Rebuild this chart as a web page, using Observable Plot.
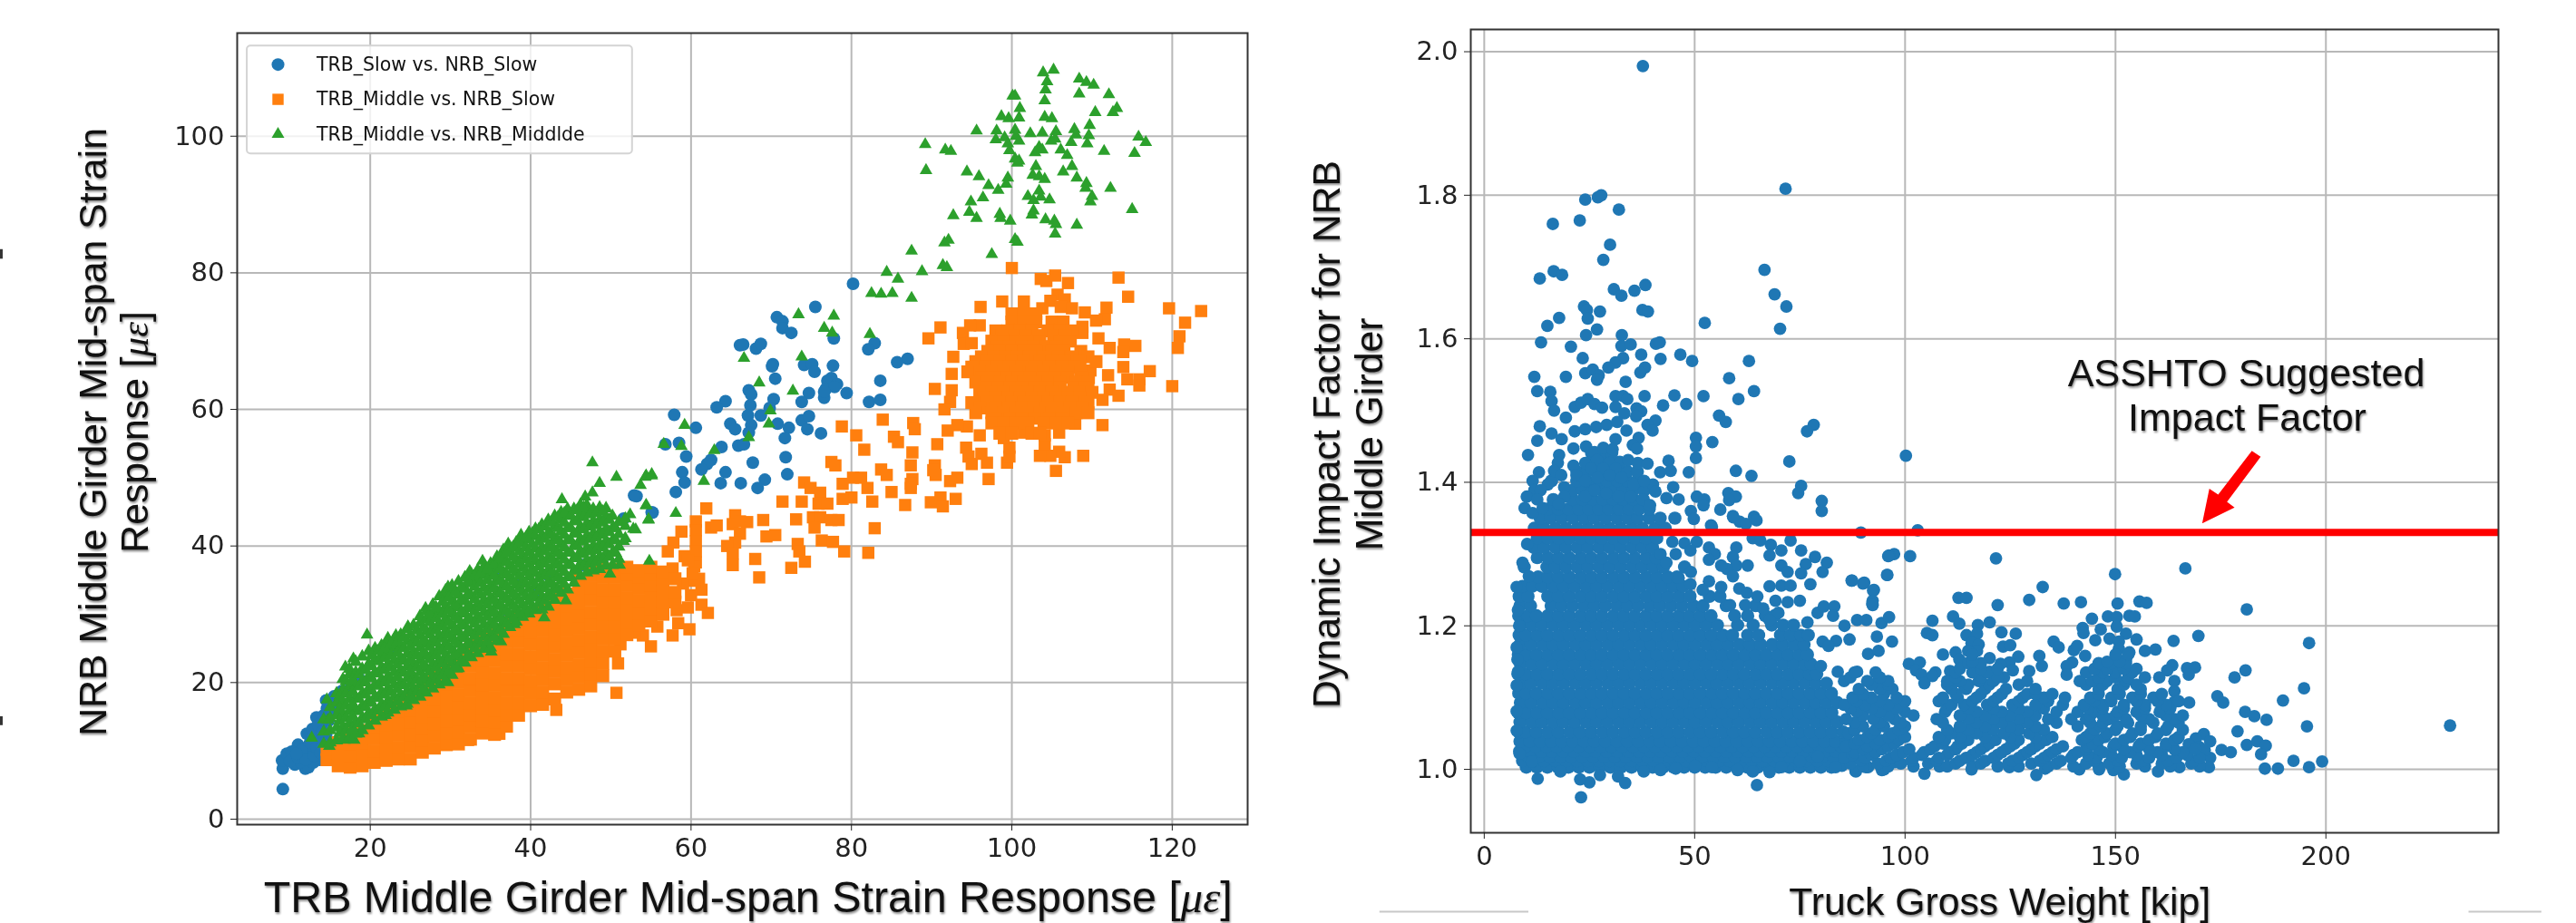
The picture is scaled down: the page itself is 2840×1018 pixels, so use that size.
<!DOCTYPE html>
<html><head><meta charset="utf-8">
<script src="https://cdn.jsdelivr.net/npm/d3@7"></script>
<script src="https://cdn.jsdelivr.net/npm/@observablehq/plot@0.6"></script>
<style>
html,body{margin:0;padding:0;background:#fff;width:2840px;height:1018px;overflow:hidden}
#a,#b{position:absolute;top:0;width:1420px;height:1018px}
#a{left:0}#b{left:1420px}
svg{overflow:visible;filter:blur(.45px)}
g[font-family="Liberation Sans"]{filter:drop-shadow(1.5px 2px 1.2px rgba(0,0,0,.45))}
</style></head><body><div id="a"></div><div id="b"></div>
<script>
const strainTicksX=[20,40,60,80,100,120], strainTicksY=[0,20,40,60,80,100];
const weightTicks=[0,50,100,150,200], impactTicks=[1,1.2,1.4,1.6,1.8,2];
const legendNames=["TRB_Slow vs. NRB_Slow","TRB_Middle vs. NRB_Slow","TRB_Middle vs. NRB_Middlde"];
const assthoFactor=1.33;

const slowPairs=[[80.2,78.4],[75.5,75],[70.7,73.5],[71.4,72.9],[71.4,71.9],[72.5,71.2],[77.8,70.4],[66.1,69.4],[66.5,69.5],[68.1,68.9],[68.7,69.6],[82.9,69.7],[82.1,68.8],[87,67.4],[85.7,66.9],[70.2,66.6],[70.1,66.3],[74.1,66.5],[75.1,66.6],[75.4,65.5],[77.7,66.4],[70.5,64.5],[83.6,64.2],[77,64.2],[77.5,64.6],[78.2,63.7],[76.8,63],[77.9,63.3],[79.4,62.4],[76.6,61.7],[76.6,62.6],[74.7,62.4],[73.8,61.1],[82.2,61.1],[83.6,61.4],[67.2,62.8],[67.5,62.2],[64.3,61.2],[63.2,60.3],[70.3,61.5],[67.4,60.6],[69.8,60.2],[67.1,59.1],[68.7,59.1],[57.9,59.2],[73.8,58.4],[74.7,59],[64.9,57.9],[65.5,57.1],[67.5,57.7],[70.8,57.9],[72.2,57.3],[74.5,57.1],[60.6,57.3],[76.2,56.5],[71.7,55.8],[67.2,56.6],[56.8,54.9],[58.5,55.1],[63.8,54.5],[65.9,54.7],[66.6,54.9],[59.4,53.1],[71.8,53],[62.5,52.6],[62,52],[61.3,51.2],[67.7,52.2],[58.9,50.8],[64.3,50.8],[72,50.5],[59.2,49.3],[63.7,49.2],[66.2,49.2],[69.2,49.7],[68.3,48.5],[58.1,47.9],[53.2,47.3],[55.1,44.9],[9.1,4.4],[9.1,7.4],[9,8.6],[10.6,8],[11.9,7.4],[12.3,7.6],[9.6,9.6],[11,10.9],[12.1,12.5],[13.3,14.9],[14.5,17.4],[16.4,18.7],[11.4,9.2],[12.7,10],[13.7,11.8],[13.7,8.7],[12.9,8.3],[13.9,13.6],[14.9,16.3],[15.4,17.2],[10.2,9.9],[11.3,8.4],[12.2,9.5],[13,11.4],[12.8,13.2],[14.5,12.3],[14.8,14.4],[15.8,15.6],[17.6,19.4],[18.6,20.6],[10,8.5],[11,9],[11.5,10.2],[12.5,11.2],[12,8.7],[13,9.3],[13.3,10.5],[13.6,12.8],[13.5,13.8],[14.2,15.2],[14.6,16.2],[14,10.8],[13.8,9.7],[10.8,9.6],[15.5,18],[16,17.5],[14.2,11.4],[14,12.8],[22.3,24.7],[35.7,36.3],[51.6,44],[48.9,37.6],[52.9,47.4],[55.2,44.9],[42.1,35.8],[40.5,33.4],[37.2,29.4],[33.5,26.5],[46.5,37.2],[38.5,34.6]];

const middleSlowPairs=[[100,80.7],[103.6,79.1],[104.3,78.8],[105.4,79.6],[107,78.5],[113.3,79.3],[114.5,76.5],[96.1,75],[98.8,75.8],[101.5,75.8],[103.8,74.8],[105.7,76.8],[104.8,75.9],[106.6,76.1],[106.1,75],[107.5,74.8],[109.1,74.2],[111.8,74.9],[119.6,74.8],[123.6,74.4],[121.6,72.7],[120.9,70.7],[120.7,69],[120,63.4],[91.1,72],[89.6,70.4],[96,72.3],[94.8,72.3],[93.9,71.2],[94,69.6],[95,69.7],[111.6,73.2],[110.5,73],[108.8,72.1],[108.8,71.2],[110.8,70.4],[112.2,69],[114,69.5],[115.4,69.3],[113.9,68.4],[113.9,66.2],[117.2,65.6],[115.9,64.4],[115.9,63.5],[114.4,64.4],[112,65],[109.8,65.7],[109.6,64.6],[112.2,62.9],[113.3,62],[111.3,61.4],[111.3,57.7],[108.9,53.2],[105.5,51],[106.6,53],[105.9,53.8],[104.8,53.2],[103.5,53.2],[105.9,56.6],[107.9,57.9],[99.4,52.2],[99.7,53.1],[99.7,54.4],[104.1,54.9],[104.1,56.2],[99,55.8],[101.5,56.6],[96,56.2],[94.4,57.5],[93.2,57.7],[92,56.9],[92.7,67.7],[92.5,65.2],[90.4,63],[92.5,62.8],[92.3,61.1],[91.6,60],[90.7,54.9],[94.3,54.4],[94.6,53.1],[95,52],[96.2,53.5],[96.9,52.2],[97.1,49.8],[87.7,58],[87.9,57.1],[83.9,58.5],[78.8,57.5],[80.6,56.2],[85.3,56],[85.8,55.2],[81.6,54.1],[87.6,53.7],[87.4,51.8],[90.4,51.8],[90.2,51.1],[90.5,50.4],[83.7,51.2],[84.4,50.4],[87.6,49.8],[87.4,49.1],[87.4,48.5],[93.2,50],[92.3,49.5],[85,47.9],[86.7,46],[89.9,46.4],[91.1,47.1],[91.4,45.8],[93,46.9],[77.5,52.3],[78,51.8],[74.1,49.3],[74.9,48.5],[76.1,47.8],[75.9,46.2],[77,46.2],[78.9,49.1],[80.2,50],[81.2,50],[82,48.5],[82.6,46.5],[80,47.1],[78.9,46.9],[71.4,46.5],[73.8,46.5],[73.1,43.9],[75.2,44.2],[76.1,44.2],[77.5,43.8],[78.4,43.8],[75.4,42.7],[82.9,42.6],[76.3,40.8],[77.7,40.6],[79.1,39.2],[82.1,39],[73.3,40.3],[73.5,39.2],[74.2,37.7],[72.5,36.8],[69.4,41.4],[70.5,41.6],[68,38.1],[69,43.8],[61.9,45.5],[60.6,43.6],[60.6,42.3],[60.6,40.7],[60.6,39.2],[60.6,37.6],[62.5,42.7],[63.2,43],[65.5,44.5],[65.2,43.2],[66.1,43.6],[67,43.5],[66.1,41.8],[65.5,40.5],[64.5,40],[65.2,38.9],[65.2,37.2],[58.8,42.1],[57.8,40.5],[57.1,39.2],[59.2,38.5],[68.5,35.4],[59.8,27.8],[61.3,33.6],[61.3,31.4],[62.1,30.2],[60.4,37],[60.4,34.9],[59.6,37.9],[57.7,36.7],[58.4,28.7],[57.7,26.9],[55,25.3],[50.9,22.8],[50.7,18.5],[51.2,25.6],[43.2,16],[36.1,12.5],[32.2,11.6],[59.6,31],[60,32.8],[58.2,30.6],[59,34.5],[61,35.2],[60.2,36],[55.8,28.2],[54,26.9],[53,27.3]];

// rows of the orange cloud around (102, 64): [NRB strain, TRB strains]
const middleCloudRows=[
[74,[100,101.5,103]],
[72.8,[100,101.5,103,105,106.4]],
[71.5,[98,99.5,101,102.5,104.5,106,107.5]],
[70.8,[98.8,100.3,101.8,103.3,105.2,106.7]],
[70,[97.5,99,100.5,102,103.5,106,107.3]],
[69.2,[98.2,99.7,101.2,102.7,104.2,105.5]],
[68.5,[97,98.5,100,101.5,103,105,106.5,108.6]],
[67.7,[96.2,97.7,99.2,100.7,102.2,104,105.8,107.5,109.5]],
[67,[95.5,97,98.5,100,101.5,103.5,105,106.5,108.5,110.5]],
[66.2,[95,96.7,98.2,99.7,101.2,103,104.7,106.2,107.8]],
[65.5,[94.5,96,97.5,99,100.5,102.5,104,105.5,107,108.6]],
[64.7,[96.3,97.8,99.3,100.8,102.3,103.8,105.3,107,108.8]],
[64,[95.5,97,98.5,100,101.5,103,104.5,106,108,109.5]],
[63.2,[96.8,98.3,99.8,101.3,102.8,104.3,106,107.7,109]],
[62.5,[96,97.5,99,100.5,102,103.5,105,107,108.5,110]],
[61.7,[96.5,98,99.5,101,102.5,104,105.5,107,108.5]],
[61,[95,97,98.5,100,101.5,103,104.5,106,107.5,109.5]],
[60.2,[96,98,99.7,101.2,102.7,104.2,105.7,107.2,108.8]],
[59.5,[95.5,97.5,99,100.5,102,103.5,105,106.5,108,109.5]],
[58.7,[98,99.8,101.2,102.8,104.7,106.2]],
[58,[97.5,99,100.5,102,104,105.5,107]],
[56.5,[98.5,100,102.5,103.5]]];

const middleBandColumns=[
[14.6,[8.7,10.2]],[16,[7.8,9.5,11.2]],[17.5,[7.6,9.3,11,12.5]],[19,[7.8,9.5,11.2,13]],[20.5,[8.3,10,11.8,13.6,14.6]],[22,[8.6,10.3,12,13.8,15.5]],[23.5,[8.8,10.5,12.3,14,15.8,16.8]],[25,[8.8,10.6,12.4,14.2,16,17.8]],[26.5,[9.8,11.5,13.3,15,16.8,18.6,19.6]],[28,[10.4,12.2,14,15.8,17.5,19.3,21]],[29.5,[10.9,12.6,14.4,16.2,18,19.8,21.6,22.4]],[31,[11,12.8,14.6,16.4,18.2,20,21.8,23.6]],[32.5,[11.7,13.5,15.3,17,18.8,20.6,22.4,24.2,25.5]],[34,[12.6,14.4,16.2,18,19.7,21.5,23.3,25,26.6]],[35.5,[12.4,14.2,16,17.8,19.6,21.4,23.2,25,26.8,27.6]],[37,[13.6,15.3,17,18.8,20.6,22.4,24.2,26,27.8,28.8]],[38.5,[15.2,17,18.8,20.6,22.4,24.2,26,27.8,29.4]],[40,[16.6,18.4,20.2,22,23.8,25.6,27.4,29.2,30.2]],[41.5,[16.8,18.6,20.4,22.2,24,25.8,27.6,29.4,31]],[43,[17.6,19.8,21.6,23.4,25.2,27,28.8,30.6,32.4]],[44.5,[18.6,20.4,22.2,24,25.8,27.6,29.4,31.2,33]],[46,[19,20.8,22.6,24.4,26.2,28,29.8,31.6,33.4,35]],[47.5,[19.5,21.3,23.1,24.9,26.7,28.5,30.3,32.1,33.9,35.7,36.5]],[49,[21,22.8,24.6,26.4,28.2,30,31.8,33.6,35.4,36.6]],[50.5,[24.6,26.4,28.2,30,31.8,33.6,35.4,36.6]],[52,[27,28.8,30.6,32.4,34.2,35.8,36.9]],[53.5,[28.4,30.2,32,33.8,35.4,36.4]],[55,[29,30.8,32.6,34.2,35.9,36.9]],[56.5,[30,31.8,33.4,35,36.2]],[58,[31.8,33.2,35.2]]];

const middleMiddlePairs=[[105.2,109.7],[103.9,109.3],[104.4,108],[104.2,106.8],[104.1,105.2],[108.4,108.4],[109.3,107.9],[110.2,107.5],[108.4,106.2],[112.1,106.1],[100.1,105.9],[100.4,105.9],[101,104.1],[113.1,104.1],[112.6,103.5],[110.4,103.5],[98.7,102.9],[99.6,102.6],[100.9,102.7],[104.1,102.8],[105,102.6],[109.7,101.6],[100.4,100.9],[98.1,100.8],[95.6,100.8],[107.8,101],[102.3,100.4],[103.8,100.5],[105.5,100.7],[108,100.2],[109.6,100.1],[115.8,99.9],[116.7,99.1],[98,99.5],[99.1,99.8],[100.5,100],[100.9,99.3],[99.5,98.9],[104.9,99.3],[105.4,99.6],[107.4,99.1],[109.4,98.9],[89.2,98.8],[91.7,98],[92.4,97.8],[99.7,97.9],[103.4,98.4],[102.9,97.6],[103.8,98],[106.1,98],[106.9,97.2],[111.5,97.8],[115.3,97.5],[100.4,96.7],[100.9,96.4],[100.7,96.1],[103,95.6],[89.3,95],[107.5,95.6],[94.4,94.8],[106.4,94.8],[95.9,94.1],[102.6,94.3],[103.4,94.1],[104.1,93.7],[108.1,93.9],[99.5,93.9],[99.3,93],[97.1,92.8],[98.3,92.1],[109.3,93.1],[109.2,92.4],[112.3,92.4],[103.4,92],[102,91.2],[96.4,91],[103.6,91.1],[104.7,90.7],[102.7,90.6],[110,91.2],[109.8,90.4],[94.9,90.4],[94.7,88.9],[102.7,89.1],[102.5,88.5],[115,89.3],[92.7,88.4],[95.6,88],[98.5,88.6],[98.6,88],[99.8,87.6],[104.2,87.8],[105.3,87.6],[105.5,87.1],[108.1,87],[105.4,85.7],[100.4,84.9],[100.7,84.5],[92.1,84.8],[91.6,84.4],[87.5,83.2],[97.5,82.7],[91.4,81.1],[91.9,80.8],[88.8,80.2],[84.4,80.1],[85.8,79.1],[82.5,77],[83.7,76.9],[85.1,77],[87.5,76.3],[73.4,73.9],[77.8,73.7],[76.6,71.9],[77.6,71.2],[82.3,71],[66.6,67.5],[73.8,67.7],[68.5,63.9],[72.7,62.7],[69.9,59.8],[69.7,57.9],[59.2,57.7],[67.2,55.9],[56.6,54.9],[58.8,54.6],[62.9,54],[61.6,49.5],[55.1,50.3],[54.3,50.1],[53.7,48.9],[54.4,45.9],[58.1,44.8],[54.7,43.8],[53.1,42.4],[54.8,37.8],[47.7,52.2],[48.6,49.2],[50.7,50.1],[54.4,50.3],[55.1,50.5],[54.4,46],[54.7,43.9],[43.9,46.8],[46.8,47.2],[47.7,47.8],[38.8,41.6],[37.2,40.3],[34,37.8],[32.4,36.3],[29.7,34],[26.9,30.9],[24.7,28.2],[23.2,26.9],[22.2,26.5],[19.6,27],[17.9,23.5],[16.9,22.3],[14.6,17.5],[12.7,11.9],[14.7,14.5],[49.9,35.9],[51.1,37.2],[44.4,32],[41.7,29.5],[39,30],[38,28.5],[36.3,26],[35.1,24.5],[34.5,25.4],[29.7,20],[30.8,22],[24.5,16.6],[21.9,15.2],[18.6,12.5],[16.8,11.6],[14.9,10.7],[18,11.6],[52.8,42.5],[51.6,40.7],[52.4,44.6]];

const middleBandColumnsGreen=[
[14.2,[11,12.8,14.6]],[15,[11.2,13,14.8,16.4]],[15.8,[11.5,13.4,15.2,17,18.4]],[16.6,[11.8,13.6,15.4,17.2,19,20.5]],[17.4,[12,14,15.8,17.6,19.4,21.2,22]],[18.2,[12.5,14.3,16.1,17.9,19.7,21.5,23]],[19,[13,14.8,16.6,18.4,20.2,22,23.8]],[19.8,[13.7,15.5,17.3,19.1,20.9,22.7,24.6]],[20.6,[14.4,16.1,17.9,19.7,21.5,23.3,25]],[21.4,[15,16.8,18.6,20.4,22.2,24,25.4]],[22.2,[15.6,17.3,19.1,20.9,22.7,24.5,26]],[23,[16,17.9,19.7,21.5,23.3,25.1,26.4]],[23.8,[16.5,18.2,20,21.8,23.6,25.4,27]],[24.6,[16.9,18.8,20.6,22.4,24.2,26,27.8]],[25.4,[17.4,19.1,20.9,22.7,24.5,26.3,28.4]],[26.2,[17.9,19.7,21.5,23.3,25.1,26.9,28.7,29.7]],[27,[18.5,20.3,22.1,23.9,25.7,27.5,29.3,30.4]],[27.8,[19.1,20.9,22.7,24.5,26.3,28.1,29.9,31.4]],[28.6,[19.7,21.5,23.3,25.1,26.9,28.7,30.5,32.6]],[29.4,[20.3,22.1,23.9,25.7,27.5,29.3,31.1,32.9,33.5]],[30.2,[21.1,22.9,24.7,26.5,28.3,30.1,31.9,33.7,34.2]],[31,[22.1,23.8,25.6,27.4,29.2,31,32.8,34.8]],[31.8,[22.9,24.7,26.5,28.3,30.1,31.9,33.7,35.4]],[32.6,[23.7,25.5,27.3,29.1,30.9,32.7,34.5,35.9]],[33.4,[24.3,26.1,27.9,29.7,31.5,33.3,35.1,36.5]],[34.2,[24.9,26.7,28.5,30.3,32.1,33.9,35.7,37]],[35,[25.1,26.9,28.7,30.5,32.3,34.1,35.9,37.4]],[35.8,[26.1,27.9,29.7,31.5,33.3,35.1,36.9,38.4]],[36.6,[27.1,28.9,30.7,32.5,34.3,36.1,37.9,39.4]],[37.4,[28.1,29.9,31.7,33.5,35.3,37.1,38.9,39.8]],[38.2,[28.9,30.7,32.5,34.3,36.1,37.9,39.7,40.5]],[39,[29.6,31.4,33.2,35,36.8,38.6,40.4,41]],[39.8,[30.1,31.9,33.7,35.5,37.3,39.1,40.9,42]],[40.6,[30.6,32.4,34.2,36,37.8,39.6,41.4,42.5]],[41.4,[30.7,32.5,34.3,36.1,37.9,39.7,41.5,43.1]],[42.2,[31.1,32.9,34.7,36.5,38.3,40.1,41.9,43.8]],[43,[32.1,33.9,35.7,37.5,39.3,41.1,42.9,44.4]],[43.8,[33.1,34.9,36.7,38.5,40.3,42.1,43.9,44.9]],[44.6,[33.6,35.4,37.2,39,40.8,42.6,44.4,45.4]],[45.4,[34.6,36.4,38.2,40,41.8,43.6,45.4]],[46.2,[35.6,37.4,39.2,41,42.8,44.6,46]],[47,[36.1,37.9,39.7,41.5,43.3,45.1,46]],[47.8,[36.4,38.2,40,41.8,43.6,45.4]],[48.6,[36.6,38.4,40.2,42,43.8,45.6]],[49.4,[37.1,38.9,40.7,42.5,44.3,45.5]],[50.2,[37.2,39,40.8,42.6,44.4]],[51,[38.1,39.9,41.7,43.5]],[51.8,[41.1,42.9,44]],
[16.2,[12.6,14.4,16.2,18]],[17,[13,14.8,16.6,18.4,20.2]],[17.8,[13.2,15,16.8,18.6,20.4]],[18.6,[14,15.8,17.6,19.4,21.2]],[19.4,[14.6,16.4,18.2,20,21.8]],[20.2,[15.2,17,18.8,20.6,22.4,24]],[21,[15.9,17.7,19.5,21.3,23.1,24.6]],[21.8,[16.4,18.2,20,21.8,23.6,25]],[22.6,[16.8,18.6,20.4,22.2,24,25.6]],[23.4,[17.2,19,20.8,22.6,24.4,26]],[24.2,[17.8,19.6,21.4,23.2,25,26.6]],[25,[18,19.8,21.6,23.4,25.2,27]],[25.8,[18.6,20.4,22.2,24,25.8,27.6]],[26.6,[19,20.8,22.6,24.4,26.2,28]],[27.4,[19.8,21.6,23.4,25.2,27,28.8,30]],[28.2,[20.4,22.2,24,25.8,27.6,29.4,31]],[29,[21,22.8,24.6,26.4,28.2,30,31.8]],[29.8,[21.6,23.4,25.2,27,28.8,30.6,32.4]],[30.6,[22.4,24.2,26,27.8,29.6,31.4,33.2]],[31.4,[23.2,25,26.8,28.6,30.4,32.2,34]],[32.2,[24,25.8,27.6,29.4,31.2,33,34.8]],[33,[25,26.8,28.6,30.4,32.2,34,35.6]],[33.8,[25.6,27.4,29.2,31,32.8,34.6,36]],[34.6,[26,27.8,29.6,31.4,33.2,35,36.6]],[35.4,[26.6,28.4,30.2,32,33.8,35.6,37.2]],[36.2,[27.6,29.4,31.2,33,34.8,36.6,38.2]],[37,[28.6,30.4,32.2,34,35.8,37.6,39]],[37.8,[29.4,31.2,33,34.8,36.6,38.4,39.8]],[38.6,[30.2,32,33.8,35.6,37.4,39.2,40.4]],[39.4,[30.8,32.6,34.4,36.2,38,39.8,41.2]],[40.2,[31.2,33,34.8,36.6,38.4,40.2,41.8]],[41,[31.6,33.4,35.2,37,38.8,40.6,42.4]],[41.8,[32,33.8,35.6,37.4,39.2,41,42.8]],[42.6,[32.6,34.4,36.2,38,39.8,41.6,43.4]],[43.4,[33.6,35.4,37.2,39,40.8,42.6,44.2]],[44.2,[34.4,36.2,38,39.8,41.6,43.4,44.8]],[45,[35.4,37.2,39,40.8,42.6,44.4]],[45.8,[36.4,38.2,40,41.8,43.6,45.2]],[46.6,[37,38.8,40.6,42.4,44.2,45.6]],[47.4,[37.4,39.2,41,42.8,44.6]],[48.2,[37.6,39.4,41.2,43,44.8]],[49,[38,39.8,41.6,43.4,45]],[49.8,[38.4,40.2,42,43.8]],[50.6,[39,40.8,42.6]]];

const impactPairs=[[71.6,1.809],[24,1.794],[27,1.797],[27.8,1.8],[32,1.78],[22.7,1.765],[16.3,1.76],[29.9,1.731],[28.3,1.71],[66.6,1.696],[16.5,1.694],[18.5,1.689],[13.2,1.684],[69,1.662],[71.8,1.645],[70.3,1.614],[38.3,1.675],[35.7,1.667],[30.8,1.669],[32.6,1.66],[23.7,1.645],[24.4,1.64],[27.5,1.638],[24.6,1.628],[37.6,1.64],[38.9,1.638],[17.8,1.629],[15,1.618],[52.4,1.622],[26.8,1.613],[24.2,1.605],[32.7,1.605],[13.5,1.595],[20.6,1.589],[32.6,1.59],[34.8,1.592],[40.8,1.593],[41.7,1.595],[37.3,1.578],[41.9,1.572],[46.6,1.578],[49.4,1.569],[23.4,1.573],[33,1.573],[31.2,1.567],[29.5,1.56],[38.2,1.56],[37.1,1.553],[62.9,1.569],[58.2,1.545],[11.9,1.547],[19.4,1.547],[24,1.552],[25.8,1.557],[27.2,1.549],[26.8,1.543],[33.6,1.54],[12.6,1.527],[15.7,1.526],[16,1.513],[16.6,1.5],[19.4,1.49],[21.5,1.505],[23,1.511],[24.6,1.516],[26.2,1.509],[28,1.504],[31.2,1.52],[33,1.52],[34,1.516],[31.2,1.505],[38.1,1.52],[42.5,1.507],[45.2,1.521],[48,1.509],[52.1,1.52],[60.4,1.516],[64.1,1.527],[36.2,1.503],[37.3,1.499],[36.1,1.492],[33.3,1.496],[55.8,1.493],[57.4,1.484],[78.3,1.48],[76.7,1.471],[40.7,1.486],[38.8,1.48],[40,1.472],[13.2,1.478],[21.5,1.471],[24,1.474],[26.6,1.477],[29.1,1.48],[31.6,1.484],[33.8,1.472],[16,1.468],[12.6,1.458],[18.4,1.46],[31.2,1.46],[36.7,1.462],[50.3,1.462],[50.3,1.45],[54.2,1.456],[35.3,1.452],[36.3,1.447],[50.3,1.434],[10.4,1.438],[17.8,1.438],[21.2,1.447],[24.2,1.45],[26.2,1.442],[28.3,1.448],[30.5,1.446],[100.2,1.437],[72.5,1.429],[43.8,1.43],[34.2,1.431],[36.5,1.427],[38.8,1.426],[17.5,1.427],[16.6,1.416],[13,1.414],[21.2,1.423],[24,1.427],[26.8,1.431],[29.8,1.427],[25.4,1.419],[28.3,1.419],[31.2,1.419],[44.3,1.416],[41.8,1.414],[48.6,1.414],[59.8,1.416],[63.5,1.409],[75.3,1.395],[74.6,1.385],[80.2,1.374],[80.2,1.36],[44.9,1.393],[40.1,1.397],[40.7,1.387],[11.5,1.402],[15.1,1.397],[18.3,1.41],[11.9,1.389],[13.4,1.389],[10.1,1.38],[12.6,1.376],[9.6,1.364],[11.5,1.357],[13.9,1.364],[19,1.393],[19,1.38],[17.7,1.37],[21.9,1.41],[24,1.402],[26.9,1.406],[29.8,1.41],[32.6,1.406],[35.5,1.397],[38,1.402],[24,1.38],[26.2,1.389],[29,1.385],[31.9,1.38],[34.8,1.38],[37.6,1.376],[43.3,1.378],[46.2,1.376],[50.5,1.38],[52.3,1.376],[52.1,1.368],[58,1.385],[59.8,1.38],[58.2,1.375],[56.1,1.362],[49.1,1.36],[49.8,1.349],[59.2,1.351],[60.7,1.345],[64.1,1.352],[64.7,1.347],[53.9,1.34],[39.4,1.368],[37.7,1.98],[229.5,1.061],[89.5,1.33],[103,1.333],[97.4,1.3],
[7.7,1.254],[8,1.222],[8.3,1.2],[7.7,1.17],[7.9,1.153],[8,1.136],[7.7,1.117],[7.7,1.081],[7.7,1.054],[8.4,1.022],[9.1,1.288],[10.2,1.314],[10.6,1.269],[11.3,1.011],[12.7,0.987],[23,0.961],[25,0.982],[22.8,0.986],[18.1,0.997],[27.5,0.992],[31.8,0.99],[33.5,0.981],[37.9,0.997],[41.9,0.999],[45.5,1.001],[50.1,1.005],[54.1,1.003],[60.2,0.999],[63.8,0.997],[64.8,0.978],[67.8,0.996],[70.6,1.003],[75,1.011],[79.3,1.018],[85,1.005],[88.3,0.997],[91.2,1.003],[95,1],[86.5,1.014],
[47.6,1.315],[50.5,1.317],[49,1.305],[44.7,1.317],[53.4,1.309],[54.1,1.338],[59.9,1.309],[63.8,1.322],[65.6,1.319],[68.1,1.313],[70.6,1.305],[72.8,1.319],[75.3,1.305],[67.8,1.298],[70.6,1.284],[72.1,1.275],[62.6,1.284],[76.4,1.286],[78.6,1.296],[81.4,1.288],[80.4,1.275],[75.3,1.273],[77.5,1.258],[96.2,1.298],[95.8,1.271],[87.4,1.263],[90.3,1.26],[92.6,1.25],[92.2,1.231],[67.8,1.255],[70.6,1.256],[72.8,1.256],[69.2,1.235],[72.1,1.233],[75,1.235],[79.2,1.218],[80.7,1.227],[83.2,1.227],[82.9,1.214],[76.8,1.205],[85.6,1.2],[88.6,1.208],[90.8,1.208],[94.4,1.204],[96.2,1.212],[86.8,1.181],[93.3,1.185],[80.4,1.178],[83.6,1.179],[81.8,1.172],[80,1.144],[84,1.136],[88.6,1.136],[93.7,1.125],[91.2,1.161],[93.7,1.165],[96.9,1.178],[59.1,1.296],[59.9,1.284],[57.7,1.279],[59.1,1.269],[56.3,1.284],[54.8,1.3],[53.4,1.292],[53.4,1.262],[49.1,1.275],[45.5,1.3],[41.9,1.3],[43.3,1.288],[46.2,1.267],[49,1.258],[51.9,1.25],[56.3,1.254],[60.6,1.252],[62.4,1.246],[64.9,1.241],[58.4,1.229],[62,1.229],[66.3,1.224],[69.9,1.218],[67.8,1.208],[59.1,1.353],[62.2,1.342],
[96,1.297],[101.2,1.297],[121.6,1.294],[95.7,1.271],[166.6,1.28],[149.9,1.272],[87.3,1.263],[90,1.259],[92.4,1.249],[92.3,1.235],[92.3,1.229],[112.7,1.239],[114.6,1.239],[132.7,1.254],[129.5,1.236],[137.7,1.231],[141.8,1.233],[122,1.229],[181.2,1.223],[150.5,1.231],[155.7,1.234],[157.4,1.232],[111.4,1.213],[112.9,1.203],[106.5,1.207],[117.3,1.201],[120.1,1.205],[144.4,1.21],[148.2,1.213],[153.3,1.214],[154.6,1.213],[150.3,1.212],[142.2,1.197],[142.4,1.19],[146.5,1.195],[145.2,1.18],[150.3,1.199],[152.5,1.189],[155,1.181],[148.6,1.182],[150.8,1.178],[163.8,1.179],[169.7,1.186],[196,1.176],[122.9,1.191],[126.3,1.189],[123.3,1.171],[125,1.173],[105.2,1.19],[106.5,1.187],[114.6,1.187],[117.1,1.189],[115.8,1.176],[117.5,1.174],[117.1,1.165],[115,1.165],[112,1.163],[109,1.16],[135.3,1.178],[136.5,1.17],[140.1,1.166],[140.9,1.172],[142.8,1.158],[157,1.165],[159.5,1.167],[150.8,1.168],[153.3,1.163],[152.5,1.153],[131.9,1.158],[126.9,1.157],[120.1,1.155],[112.9,1.153],[132.5,1.144],[139.7,1.149],[138.4,1.144],[138.4,1.132],[129.5,1.137],[124.8,1.149],[125.6,1.138],[122.7,1.147],[117.5,1.144],[120.1,1.136],[123.5,1.128],[110.7,1.137],[100.9,1.147],[103.5,1.149],[102.6,1.138],[103.9,1.132],[107.2,1.135],[106.5,1.13],[104.6,1.12],[112.4,1.123],[111.2,1.123],[114.1,1.115],[163.5,1.145],[167,1.141],[168.9,1.142],[167.4,1.132],[162.3,1.138],[160.4,1.128],[164,1.123],[164,1.109],[164,1.094],[167.5,1.093],[180.9,1.138],[178.3,1.128],[194.8,1.113],[189.8,1.096],[174.2,1.102],[175.6,1.093],[180.8,1.08],[183,1.074],[185.9,1.069],[195.5,1.06],[179,1.053],[164.7,1.043],[181.2,1.034],[183.7,1.039],[185.7,1.033],[184.6,1.021],[175.2,1.027],[177.4,1.024],[171,1.049],[172.5,1.039],[169.1,1.043],[167.4,1.035],[172.5,1.016],[169.9,1.031],[171.2,1.027],[167,1.022],[192.3,1.012],[199.1,1.011],[196,1.003],[188.6,1.001],[185.5,1.001],[172.2,1.003],[169.9,1.008],[165.2,1.003],[160.1,0.997],[152,0.993],[149.5,0.999],[146.1,1],[141.4,1],[133.3,1.001],[131.2,0.992],[124.8,1.003],[115.8,1],[108.2,1.004],[104.6,0.994],[97.6,1.01],[94.5,0.999],[90.7,1.003],[88.2,0.998],[83.5,1.003]];

// rows of the heavy-truck scatter, x > 85 kip: [impact factor, weights]
const heavyRows=[
[1.004,[90,96,102,110,116,122,127,134,140,146,151,157,163,170]],
[1.008,[87,93.5,99,105.5,112,118,124.5,130,136,143,148.5,155,161,168]],
[1.012,[89.5,95.5,101.5,107.5,113,119,125.5,132,137,145,150.5,156.5,162.5,168.5]],
[1.016,[85.5,90.5,96.5,102,108,114.5,121,127,133,139.5,145.5,151.5,158,164.5,170]],
[1.02,[87.5,92,98,104,110,116,122,128,134,140,143.5,149,155,161,167]],
[1.024,[88,93,99.5,104.5,110.5,117,123,129,135,141,147,153.5,160,166]],
[1.028,[90,94.5,101,106,112,118,124,130,136,143,146,152,158,164,169]],
[1.032,[86,91,96,107,112.5,119,125,131,137.5,143.5,149.5,155.5,162]],
[1.036,[88,93,97.5,109,113.5,120,126,132,144.5,150,156,162]],
[1.041,[89,94,98.5,109.5,115,121.5,127,133.5,142,146,152,158,164]],
[1.045,[91,96,100,108,113,119,125,131,135,143,147.5,153.5,159.5,165]],
[1.05,[86.5,92,97,111,117,123.5,129.5,144,148,154,160]],
[1.055,[88,93,98.5,110,115,121,127,133,145,150,156,162,166]],
[1.06,[90,95,100,113,119,125,131,141,146.5,150.5,156,162.5]],
[1.065,[88,94,99,109,117,123,129,136,144,147,153,159,165]],
[1.07,[86,92.5,97.5,107.5,115,121,127,134,139.5,143,148.5,152.5,158,164]],
[1.075,[90,96,102,113,119,125,131,144,147,150,156,162,166]],
[1.08,[88.5,94,100,109.5,117,123,129,136,141,145,150.5,155,160.5]],
[1.085,[87,92,98,110,115,121,127,133,143.5,147,152,157,163]],
[1.09,[85.5,90.5,96,111,114,119.5,125.5,131,137.5,142.5,147,152,157,162]],
[1.095,[88.5,94,100,108,116,121,127,134,145,149,155,160,165]],
[1.1,[87.5,92,98,109,112.5,117,122,128,133,138,144,149,154,159]],
[1.105,[90,95,112,118,123,129,131,135,146,151,156,161]],
[1.112,[89,94,97,111,114.5,119,124,131,146,150.5,156]],
[1.118,[92,96,110,115,120,127,143,147,152,155]],
[1.123,[85.5,91,96,110,113,117.5,121,129,141.5,144.5,148,152.5]],
[1.128,[87,94,112,118,122,146,150,153,157]],
[1.135,[88,93,112,116,119.5,143,147,150,154]],
[1.14,[113,118,122,145,148,152,155]],
[1.148,[115,118,146,149,152.5]],
[1.15,[116,148,151]],
[1.16,[116,150,153]]];

// rows of the dense light-truck scatter: [impact factor, weights]
const lightRows=[
[1.003,[10,12.5,15,17.5,20,22.5,25,27.5,30,32.5,35,37.5,40,42.5,45,47.5,50,52.5,55,57.5,60,62.5,65,67.5,70,72.5,75,77.5,80,82.5]],
[1.012,[9.1,11.8,14.2,16.9,19.4,22.1,24.6,27.3,29.8,32.4,35.1,37.6,40.2,42.9,45.3,48,50.6,53.1,55.8,58.3,61,63.6,66.1,68.8,71.3,73.9,76.6,79.2,81.7,84.2]],
[1.018,[10.4,13,15.6,18.1,20.7,23.3,25.9,28.5,31,33.6,36.2,38.8,41.4,44,46.6,49.2,51.8,54.4,57,59.6,62.2,64.8,67.4,70,72.6,75.2,77.8,80.4,83]],
[1.025,[8.4,10.9,13.6,16.1,18.8,21.3,24,26.4,29.1,31.6,34.3,36.8,39.5,42,44.7,47.2,49.8,52.4,55,57.6,60.2,62.8,65.4,68,70.6,73.2,75.8,78.4,81,83.5,86]],
[1.032,[9.8,12.2,14.8,17.2,19.8,22.4,25,27.6,30.2,32.8,35.4,38,40.6,43.2,45.8,48.4,51,53.6,56.2,58.8,61.4,64,66.6,69.2,71.8,74.4,77,79.6,82.2,84.8]],
[1.039,[8.5,10.8,13.3,15.9,18.4,21,23.7,26.2,28.8,31.5,34,36.6,39.3,41.8,44.4,47,49.7,52.2,54.8,57.4,60,62.7,65.2,67.8,70.4,73.1,75.6,78.2,80.8,83.4,86]],
[1.052,[8.2,9.8,12.4,15.1,17.6,20.3,22.7,25.4,28.1,30.6,33.3,35.8,38.4,41.1,43.6,46.2,48.9,51.4,54,56.7,59.2,61.8,64.4,67.1,69.6,72.2,74.9,77.4,80,82.6,85.3]],
[1.066,[8.5,11.2,13.7,16.4,18.9,21.5,24.2,26.7,29.3,32,34.5,37.1,39.8,42.3,44.9,47.6,50.1,52.7,55.4,57.9,60.5,63.2,65.7,68.3,71,73.5,76.1,78.8,81.3,83.9]],
[1.079,[8.1,9.9,12.5,15,17.7,20.2,22.8,25.5,28,30.6,33.3,35.8,38.5,41,43.6,46.3,48.8,51.4,54.1,56.6,59.2,61.9,64.4,67,69.7,72.2,74.8,77.5,80,82.6]],
[1.093,[8.6,11.1,13.8,16.3,18.9,21.6,24.1,26.7,29.4,31.9,34.5,37.2,39.7,42.3,45,47.5,50.1,52.8,55.3,57.9,60.6,63.1,65.7,68.4,70.9,73.5,76.2,78.7,81.3,83.9]],
[1.106,[8.2,9.9,12.4,15.1,17.6,20.2,22.9,25.4,28,30.7,33.2,35.8,38.5,41,43.6,46.3,48.8,51.4,54.1,56.6,59.2,61.9,64.4,67,69.7,72.2,74.8,77.5,80,82.5]],
[1.12,[8.6,11.1,13.8,16.3,18.9,21.6,24.1,26.7,29.4,31.9,34.5,37.2,39.7,42.3,45,47.5,50.1,52.8,55.3,57.9,60.6,63.1,65.7,68.4,70.9,73.5,76.2,78.7,81.3]],
[1.133,[8,9.8,12.5,15,17.7,20.2,22.8,25.5,28,30.6,33.3,35.8,38.4,41.1,43.6,46.2,48.9,51.4,54,56.7,59.2,61.8,64.5,67,69.6,72.3,74.8,77.3,79]],
[1.147,[8.6,11.2,13.7,16.4,18.9,21.5,24.2,26.7,29.3,32,34.5,37.1,39.8,42.3,44.9,47.6,50.1,52.7,55.4,57.9,60.5,63.2,65.7,68.3,71,73.5,76.1,77.6]],
[1.16,[8.1,9.9,12.4,15.1,17.6,20.2,22.9,25.4,28,30.7,33.2,35.8,38.5,41,43.6,46.3,48.8,51.4,54.1,56.6,59.2,61.9,64.4,67,69.7,72.2,74.8,76.8]],
[1.174,[8.5,11.1,13.8,16.3,18.9,21.6,24.1,26.7,29.4,31.9,34.5,37.2,39.7,42.3,45,47.5,50.1,52.8,55.3,57.9,60.6,63.1,65.7,68.4,70.9,73.5,76]],
[1.187,[8.3,9.9,12.5,15,17.7,20.2,22.8,25.5,28,30.6,33.3,35.8,38.4,41.1,43.6,46.2,48.9,51.4,54,56.7,59,62.6,65.2,70.4,72.8,75.2,77]],
[1.201,[8.6,11.2,13.7,16.4,18.9,21.5,24.2,26.7,29.3,32,34.5,37.1,39.8,42.3,44.9,47.6,50.1,52.7,55.4,60.2,63.9,68.3,71,73.5]],
[1.214,[8.2,10.4,12.4,15.1,17.6,20.2,22.9,25.4,28,30.7,33.2,35.8,38.5,41,43.6,46.3,48.8,51.4,53.9,59.5,62.6,66.8,69]],
[1.228,[8.5,11,15.9,18.4,21,23.7,26.2,28.8,31.5,34,36.6,39.3,41.8,44.4,47,49.7,52,57.5,64.5]],
[1.241,[8.3,10.4,15.1,17.6,20.2,22.9,25.4,28,30.7,33.2,35.8,38.5,41,43.6,46.3,48.9,53.5,56]],
[1.255,[9.1,11.4,13.7,16.4,18.9,21.5,24.2,26.7,29.3,32,34.5,37.1,39.8,42.3,44.9,47.2]],
[1.268,[12.8,15.1,17.6,20.2,22.9,25.4,28,30.7,33.2,35.8,38.5,41,43.6,45.8]],
[1.282,[9.5,14.9,16.9,19.4,22.1,24.6,27.3,29.8,32.4,35.1,37.6,40.2,42.6,47.6]],
[1.295,[12.6,15.1,17.6,20.2,22.9,25.4,28,30.7,33.2,35.8,38.5,40.8]],
[1.309,[11.8,14.2,16.9,19.4,22.1,24.6,27.3,29.8,32.4,35.1,37.6,40]],
[1.322,[12.6,15.1,17.6,20.2,22.9,25.4,28,30.7,33.2,35.8,38.4,41]],
[1.336,[11.9,14.2,16.9,19.4,22.1,24.6,27.3,29.8,32.4,35.1,37.6,40.6,43]],
[1.35,[13.3,15.8,18.4,21.1,23.7,26.2,28.8,31.5,34,36.4,39.2,41.8,45.3]],
[1.363,[15.2,17.6,20,22.4,24.8,27.2,29.6,32,34.4,36.8,39.2]],
[1.376,[16.4,21,23.4,25.8,28.2,30.6,33,35.4,37.8]],
[1.389,[21,23.4,25.8,28.2,30.6,33,35.4,38]],
[1.402,[16,22,24.4,26.8,29.2,31.6,34,36.4]],
[1.415,[22,24.4,26.8,29.2,31.6,34,36.4]],
[1.428,[25,27.4,29.8,32.2]],
[1.441,[25.5,27.9,30.3]]];

const arrowOutlineX=[182.4,184.5,176.5,178.3,170.6,172.3,174.4], arrowOutlineY=[1.4438,1.4355,1.3727,1.3647,1.3427,1.3912,1.3828];

const toPts=a=>a.map(([x,y])=>({x,y}));
const fromCols=a=>a.flatMap(([x,ys])=>ys.map(y=>({x,y})));
const fromRows=a=>a.flatMap(([y,xs])=>xs.map(x=>({x,y})));
const BLUE="#1f77b4",ORANGE="#ff7f0e",GREEN="#2ca02c";
const SANS="Liberation Sans",TICK="DejaVu Sans";
const label=(t,x,y,size,extra={})=>Plot.text([t],{x:()=>x,y:()=>y,text:d=>d,fontSize:size,fontFamily:SANS,fill:"#111",...extra});

const left=Plot.plot({
  width:1420,height:1018,marginLeft:261,marginRight:45,marginTop:36,marginBottom:109,
  style:{background:"transparent",overflow:"visible"},
  x:{domain:[3.41,129.4]},y:{domain:[-0.8,115.1]},
  marks:[
    Plot.gridX(strainTicksX,{stroke:"#b8b8b8",strokeOpacity:1,strokeWidth:2}),
    Plot.gridY(strainTicksY,{stroke:"#b8b8b8",strokeOpacity:1,strokeWidth:2}),
    Plot.dot(toPts(slowPairs),{x:"x",y:"y",r:7,fill:BLUE}),
    Plot.dot(toPts(middleSlowPairs),{x:"x",y:"y",r:7.6,symbol:"square",fill:ORANGE}),
    Plot.dot([...fromRows(middleCloudRows),...fromCols(middleBandColumns)],{x:"x",y:"y",r:8,symbol:"square",fill:ORANGE}),
    Plot.dot(toPts(middleMiddlePairs),{x:"x",y:"y",r:5.2,symbol:"triangle",fill:GREEN}),
    Plot.dot(fromCols(middleBandColumnsGreen),{x:"x",y:"y",r:5.4,symbol:"triangle",fill:GREEN}),
    Plot.frame({stroke:"#333",strokeWidth:2}),
    Plot.axisX(strainTicksX,{label:null,tickSize:7,tickPadding:8,fontSize:29,fontFamily:TICK,stroke:"#222",fill:"#222"}),
    Plot.axisY(strainTicksY,{label:null,tickSize:7,tickPadding:7,fontSize:29,fontFamily:TICK,stroke:"#222",fill:"#222"}),
    Plot.rect([0],{x1:()=>4.66,x2:()=>52.7,y1:()=>97.4,y2:()=>113.2,fill:"#fff",fillOpacity:.8,stroke:"#d4d4d4",strokeWidth:2,rx:4}),
    Plot.dot(legendNames.slice(0,1),{x:()=>8.5,y:()=>110.5,r:7,fill:BLUE}),
    Plot.dot(legendNames.slice(1,2),{x:()=>8.5,y:()=>105.4,r:7,symbol:"square",fill:ORANGE}),
    Plot.dot(legendNames.slice(2,3),{x:()=>8.5,y:()=>100.3,r:5.2,symbol:"triangle",fill:GREEN}),
    Plot.text(legendNames,{x:()=>13.3,y:(d,i)=>[110.5,105.4,100.3][i],text:d=>d,textAnchor:"start",fontSize:20.5,fontFamily:TICK,fill:"#111"}),
    label("TRB Middle Girder Mid-span Strain Response [με]",67.1,-11.5,48.4),
    label("NRB Middle Girder Mid-span Strain",-14.46,56.7,42.8,{rotate:-90}),
    label("Response [με]",-9.25,56.7,42.8,{rotate:-90}),
    Plot.ruleX([-26],{y1:83.4,y2:82,stroke:"#333",strokeWidth:3}),
    Plot.ruleX([-26],{y1:15,y2:13.7,stroke:"#333",strokeWidth:3})
  ]
});
document.getElementById("a").append(left);

const right=Plot.plot({
  width:1420,height:1018,marginLeft:201,marginRight:86,marginTop:32,marginBottom:100,
  style:{background:"transparent",overflow:"visible"},
  x:{domain:[-3.2,241]},y:{domain:[0.9116,2.031]},
  marks:[
    Plot.gridX(weightTicks,{stroke:"#b8b8b8",strokeOpacity:1,strokeWidth:2}),
    Plot.gridY(impactTicks,{stroke:"#b8b8b8",strokeOpacity:1,strokeWidth:2}),
    Plot.dot(fromRows(lightRows),{x:"x",y:"y",r:7.3,fill:BLUE}),
    Plot.dot([...toPts(impactPairs),...fromRows(heavyRows)],{x:"x",y:"y",r:6.9,fill:BLUE}),
    Plot.ruleY([assthoFactor],{stroke:"#ff0000",strokeWidth:8}),
    Plot.frame({stroke:"#333",strokeWidth:2}),
    Plot.axisX(weightTicks,{label:null,tickSize:7,tickPadding:8,fontSize:29,fontFamily:TICK,stroke:"#222",fill:"#222"}),
    Plot.axisY(impactTicks,{label:null,tickFormat:".1f",tickSize:7,tickPadding:7,fontSize:29,fontFamily:TICK,stroke:"#222",fill:"#222"}),
    Plot.line(arrowOutlineX,{x:d=>d,y:(d,i)=>arrowOutlineY[i],fill:"#ff0000",stroke:"none",curve:"linear-closed"}),
    label("ASSHTO Suggested",181.1,1.551,43),
    label("Impact Factor",181.3,1.489,43),
    label("Truck Gross Weight [kip]",122.5,0.814,42.7),
    label("Dynamic Impact Factor for NRB",-37.2,1.467,42.8,{rotate:-90}),
    label("Middle Girder",-27.1,1.467,42.8,{rotate:-90}),
    Plot.ruleY([0.8017],{x1:-24.8,x2:10.6,stroke:"#c8c8c8",strokeWidth:2}),
    Plot.ruleY([0.8017],{x1:234,x2:251.3,stroke:"#c8c8c8",strokeWidth:2})
  ]
});
document.getElementById("b").append(right);

// the unit symbols are set in italic math type
d3.select(left).selectAll("text").filter(function(){return this.textContent.endsWith("[με]")}).each(function(){
  const t=d3.select(this),s=this.textContent.replace("με]","");t.text(s);
  t.append("tspan").attr("font-family","Liberation Serif").attr("font-style","italic").text("με");
  t.append("tspan").text("]");
});
</script></body></html>
